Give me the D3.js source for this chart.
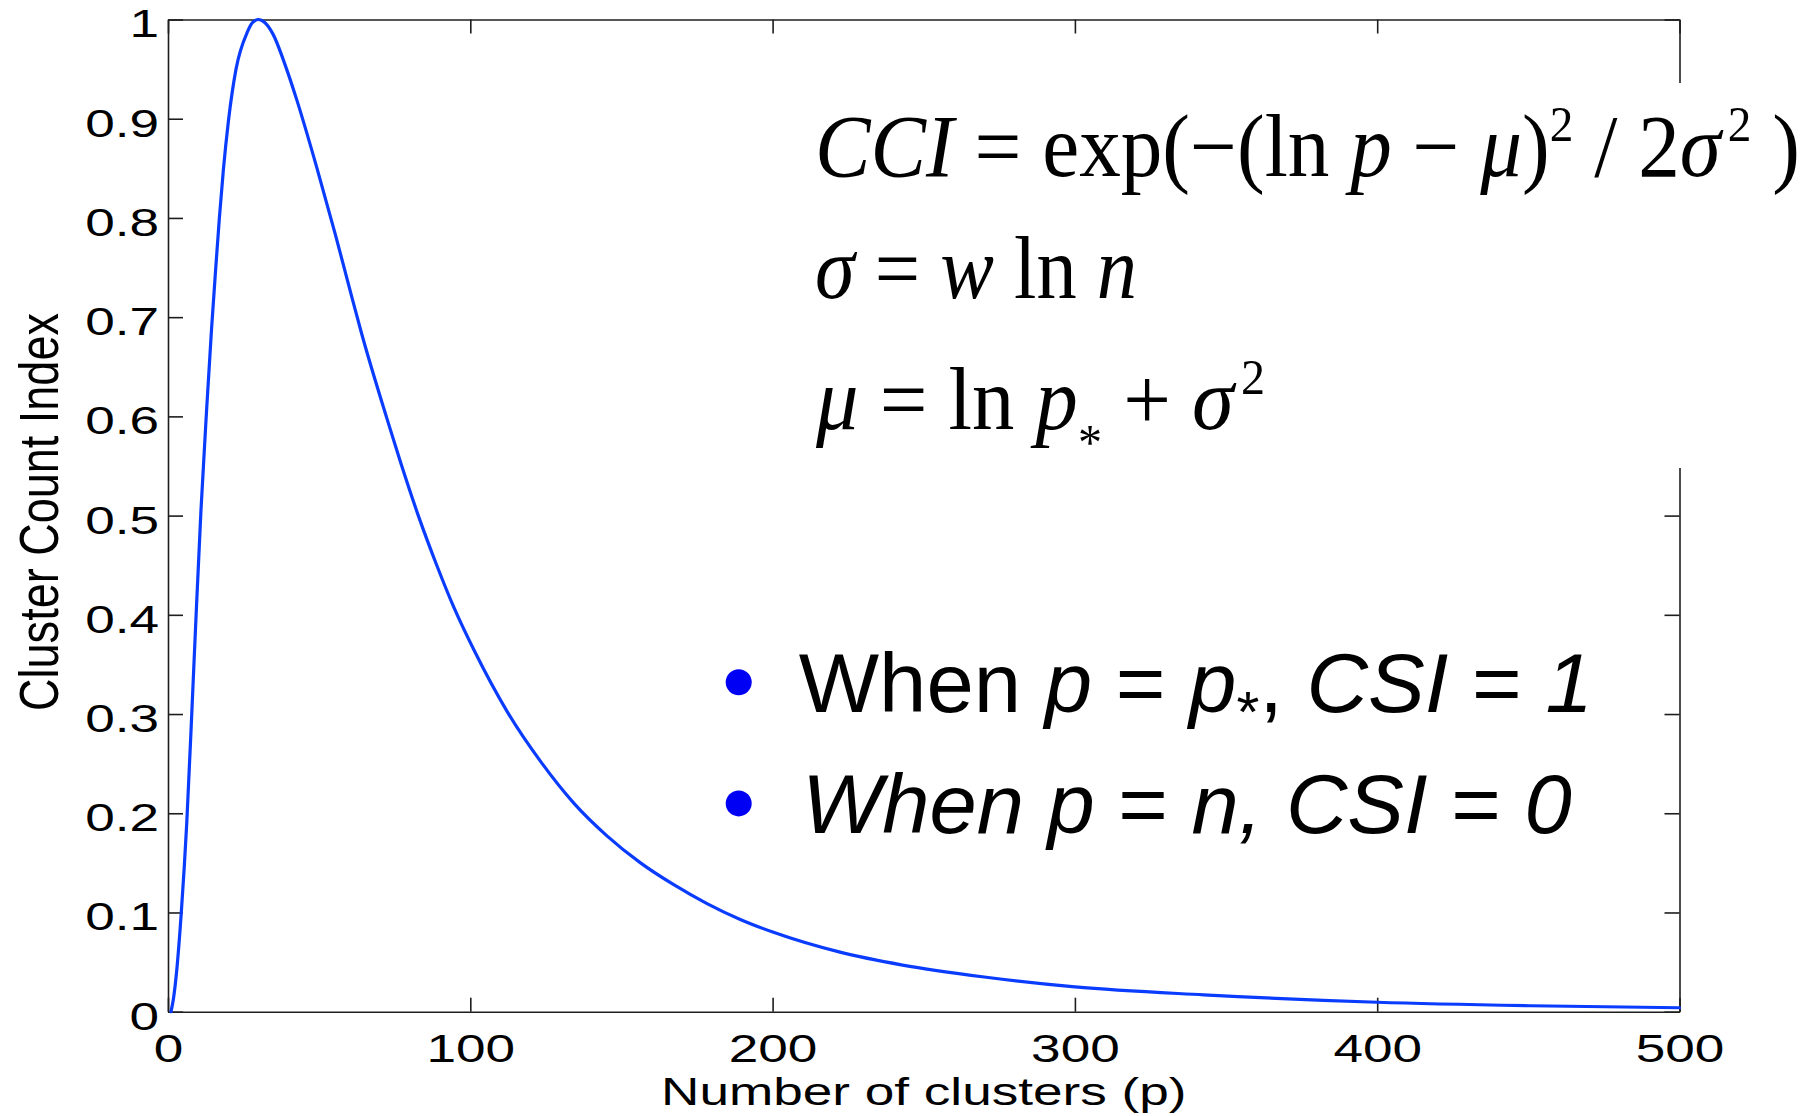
<!DOCTYPE html>
<html>
<head>
<meta charset="utf-8">
<script src="https://cdn.jsdelivr.net/npm/d3@7"></script>
<style>
  html, body { margin: 0; padding: 0; background: #ffffff; }
  svg { display: block; }
</style>
</head>
<body>
<svg id="chart" width="1810" height="1116"></svg>
<script>
// ---------------- data ----------------
const clusterCounts = [1, 1.8, 2.9, 4.4, 6.2, 8.0, 9.3, 10.9, 12.8, 14.4, 15.8, 17.0, 18.3, 20.0, 22.5, 26.2, 28.0, 30.0, 32.0, 34.6, 39.0, 42.6, 49.2, 55.3, 61.1, 64.0, 72.4, 76.8, 82.8, 88.9, 94.5, 101.3, 112.3, 123.3, 134.3, 145.3, 156.3, 167.3, 178.3, 189.3, 200.3, 222.3, 243.0, 270.0, 300.0, 342.6, 400.0, 450.8, 500.0];
const cciValues = [0.000, 0.013, 0.042, 0.100, 0.190, 0.310, 0.400, 0.505, 0.608, 0.688, 0.750, 0.800, 0.848, 0.898, 0.950, 0.987, 0.997, 1.000, 0.997, 0.986, 0.952, 0.919, 0.851, 0.784, 0.717, 0.684, 0.598, 0.555, 0.500, 0.450, 0.408, 0.364, 0.302, 0.252, 0.210, 0.177, 0.150, 0.128, 0.109, 0.093, 0.080, 0.060, 0.047, 0.035, 0.025, 0.017, 0.0095, 0.006, 0.004];

const xTickValues = [0, 100, 200, 300, 400, 500];
const xTickLabels = ["0", "100", "200", "300", "400", "500"];
const yTickValues = [0, 0.1, 0.2, 0.3, 0.4, 0.5, 0.6, 0.7, 0.8, 0.9, 1];
const yTickLabels = ["0", "0.1", "0.2", "0.3", "0.4", "0.5", "0.6", "0.7", "0.8", "0.9", "1"];
const xDomain = [0, 500];
const yDomain = [0, 1];

const xAxisTitle = "Number of clusters (p)";
const yAxisTitle = "Cluster Count Index";

// equation pieces (i = italic, sup = superscript, sub = subscript)
const equation1 = [{t:"CCI", i:1}, {t:" = exp(−(ln "}, {t:"p", i:1}, {t:" − "}, {t:"μ", i:1}, {t:")"}, {t:"2", sup:1}, {t:" / 2"}, {t:"σ\u200A", i:1}, {t:"2", sup:1}, {t:" )"}];
const equation2 = [{t:"σ", i:1}, {t:" = "}, {t:"w", i:1}, {t:" ln "}, {t:"n", i:1}];
const equation3 = [{t:"μ", i:1}, {t:" = ln "}, {t:"p", i:1}, {t:"*", sub:1}, {t:" + "}, {t:"σ\u200A", i:1}, {t:"2", sup:1}];
const bullet1 = [{t:"When "}, {t:"p", i:1}, {t:" = "}, {t:"p", i:1}, {t:"*", sub:1}, {t:", "}, {t:"CSI", i:1}, {t:" = "}, {t:"1", i:1}];
const bullet2 = [{t:"When p", i:1}, {t:" = "}, {t:"n, CSI", i:1}, {t:" = "}, {t:"0", i:1}];

// ---------------- layout ----------------
const plotLeft = 168, plotRight = 1679.5, plotTop = 19.5, plotBottom = 1011.7;
const stretch = 1.38;                // horizontal stretch of the axis text
const sansFamily = "'Liberation Sans', Arial, Helvetica, sans-serif";
const serifFamily = "'Liberation Serif', 'Times New Roman', Times, serif";
const axisColor = "#1e1e1e";
const lineColor = "#0a3cff";
const bulletColor = "#0000f5";

const svg = d3.select("#chart");
const x = d3.scaleLinear().domain(xDomain).range([plotLeft, plotRight]);
const y = d3.scaleLinear().domain(yDomain).range([plotBottom, plotTop]);

function styleAxis(g) {
  g.attr("color", axisColor);
  g.selectAll("path.domain").attr("stroke-width", 1.6);
  g.selectAll(".tick line").attr("stroke-width", 1.6);
  g.selectAll("text").attr("font-family", sansFamily).attr("font-size", 38.5).attr("fill", "#000");
}

// bottom axis
const gx = svg.append("g").attr("transform", `translate(0,${plotBottom})`)
  .call(d3.axisBottom(x).tickValues(xTickValues).tickFormat((d, i) => xTickLabels[i]).tickSizeInner(-14).tickSizeOuter(0));
styleAxis(gx);
gx.selectAll(".tick text").attr("y", 50).attr("dy", null).attr("transform", `scale(${stretch},1)`);

// top axis (ticks only)
const gxt = svg.append("g").attr("transform", `translate(0,${plotTop})`)
  .call(d3.axisTop(x).tickValues(xTickValues).tickFormat("").tickSizeInner(-14).tickSizeOuter(0));
styleAxis(gxt);

// left axis
const gy = svg.append("g").attr("transform", `translate(${plotLeft},0)`)
  .call(d3.axisLeft(y).tickValues(yTickValues).tickFormat((d, i) => yTickLabels[i]).tickSizeInner(-15).tickSizeOuter(0));
styleAxis(gy);
gy.selectAll(".tick text").attr("x", -9 / stretch).attr("y", 17.4).attr("dy", null).attr("transform", `scale(${stretch},1)`);

// right axis (ticks only)
const gyr = svg.append("g").attr("transform", `translate(${plotRight},0)`)
  .call(d3.axisRight(y).tickValues(yTickValues).tickFormat("").tickSizeInner(-15).tickSizeOuter(0));
styleAxis(gyr);

// axis titles
svg.append("text")
  .attr("font-family", sansFamily).attr("font-size", 38.5).attr("text-anchor", "middle").attr("fill", "#000")
  .attr("transform", `translate(${(plotLeft + plotRight) / 2},1105) scale(${stretch},1)`)
  .text(xAxisTitle);

const yTitle = svg.append("text")
  .attr("font-family", sansFamily).attr("font-size", 42).attr("text-anchor", "middle").attr("fill", "#000")
  .text(yAxisTitle);
const yLen = yTitle.node().getComputedTextLength();
yTitle.attr("transform", `translate(57.5,512) scale(1.33,${398 / yLen}) rotate(-90)`);

// white box behind the equations (hides part of the right axis)
svg.append("rect").attr("x", 790).attr("y", 83).attr("width", 1020).attr("height", 385).attr("fill", "#ffffff");

// curve
const pts = clusterCounts.map((p, i) => ({p, v: cciValues[i]}));
svg.append("path").datum(pts)
  .attr("fill", "none").attr("stroke", lineColor).attr("stroke-width", 3.2)
  .attr("stroke-linejoin", "round").attr("stroke-linecap", "round")
  .attr("d", d3.line().x(d => x(d.p)).y(d => y(d.v)).curve(d3.curveMonotoneX));

// rich text helper
function richText(pieces, o) {
  const t = svg.append("text")
    .attr("font-family", o.family).attr("font-size", o.size).attr("fill", "#000")
    .style("white-space", "pre");
  let shift = 0;
  pieces.forEach(pc => {
    const ts = t.append("tspan").text(pc.t);
    if (pc.i) ts.attr("font-style", "italic");
    const target = pc.sup ? -o.supRise : (pc.sub ? o.subDrop : 0);
    if (target !== shift) { ts.attr("dy", target - shift); shift = target; }
    if (pc.sup || pc.sub) ts.attr("font-size", o.smallSize);
  });
  const bb = t.node().getBBox();
  const k = o.width / bb.width;
  t.attr("transform", `translate(${o.x - bb.x * k},${o.y}) scale(${k},1)`);
  return t;
}

const eqOpts = {family: serifFamily, size: 88, smallSize: 50, supRise: 35, subDrop: 30};
richText(equation1, Object.assign({}, eqOpts, {x: 815, y: 175.5, width: 985}));
richText(equation2, Object.assign({}, eqOpts, {x: 815, y: 297.8, width: 322}));
richText(equation3, Object.assign({}, eqOpts, {x: 815, y: 429.4, width: 450}));

// bullets
const bulletY = [682.2, 803.4];
svg.selectAll("circle.bullet").data(bulletY).enter().append("circle")
  .attr("class", "bullet").attr("cx", 738.7).attr("cy", d => d).attr("r", 13).attr("fill", bulletColor);

const legOpts = {family: sansFamily, size: 84, smallSize: 58, supRise: 0, subDrop: 20};
richText(bullet1, Object.assign({}, legOpts, {x: 798.8, y: 712.2, width: 794}));
richText(bullet2, Object.assign({}, legOpts, {x: 802, y: 833.4, width: 770}));
</script>
</body>
</html>
